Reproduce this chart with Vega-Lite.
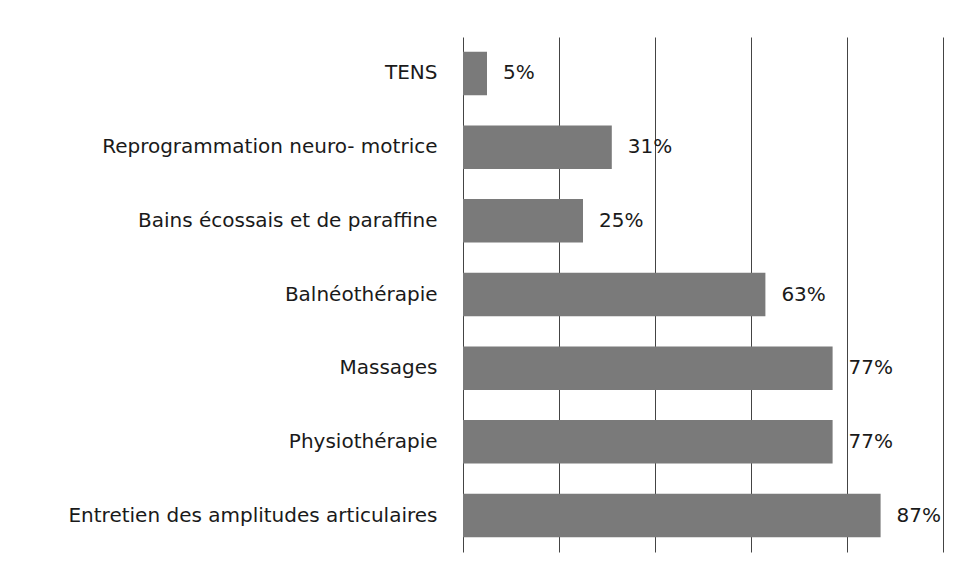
{
  "$schema": "https://vega.github.io/schema/vega-lite/v6.json",
  "autosize": {"type": "none"},
  "width": 480,
  "height": 515,
  "padding": {"left": 463, "top": 37, "right": 21, "bottom": 28},
  "background": "white",
  "config": {"view": {"stroke": null}, "font": "DejaVu Sans"},
  "data": {"values": [
    {"cat": "TENS", "v": 0.05},
    {"cat": "Reprogrammation neuro- motrice", "v": 0.31},
    {"cat": "Bains écossais et de paraffine", "v": 0.25},
    {"cat": "Balnéothérapie", "v": 0.63},
    {"cat": "Massages", "v": 0.77},
    {"cat": "Physiothérapie", "v": 0.77},
    {"cat": "Entretien des amplitudes articulaires", "v": 0.87}
  ]},
  "encoding": {
    "y": {"field": "cat", "type": "nominal", "sort": null, "title": null,
      "scale": {"paddingInner": 0.41, "paddingOuter": 0.2},
      "axis": {"domain": false, "ticks": false, "labelPadding": 26, "labelFontSize": 20, "labelColor": "#1a1a1a", "labelFont": "DejaVu Sans", "labelLimit": 500}},
    "x": {"field": "v", "type": "quantitative", "title": null,
      "scale": {"domain": [0, 1], "nice": false},
      "axis": {"values": [0, 0.2, 0.4, 0.6, 0.8, 1], "labels": false, "ticks": false, "domain": false, "grid": true, "gridColor": "#444", "gridWidth": 1}}
  },
  "layer": [
    {"mark": {"type": "bar", "color": "#7a7a7a"}},
    {"mark": {"type": "text", "align": "left", "baseline": "middle", "dx": 16, "fontSize": 20, "color": "#1a1a1a", "font": "DejaVu Sans"},
     "encoding": {"text": {"field": "v", "type": "quantitative", "format": ".0%"}}}
  ]
}
